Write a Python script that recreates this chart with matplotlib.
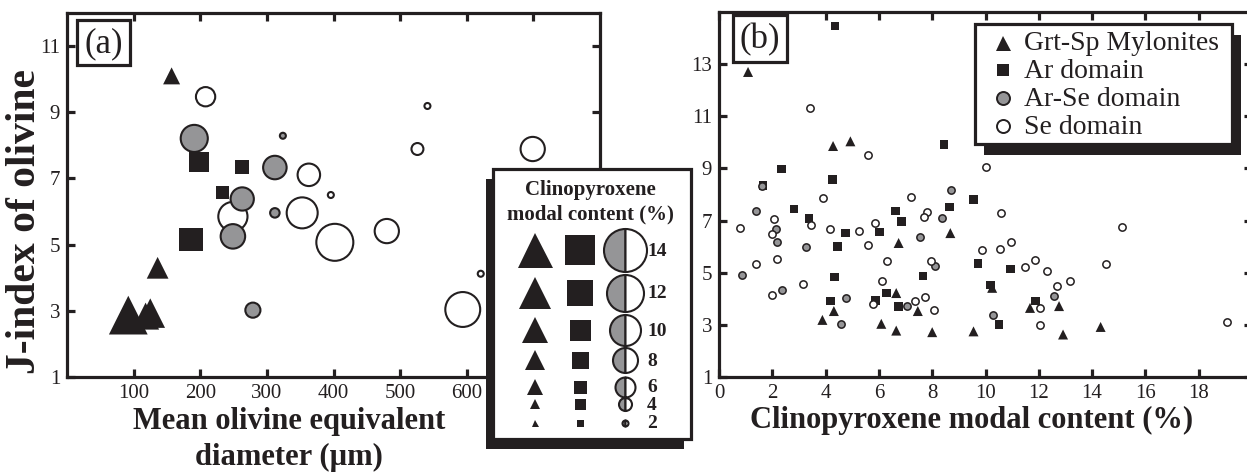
import numpy as np
import matplotlib
matplotlib.use("Agg")
import matplotlib.pyplot as plt
from matplotlib.patches import Rectangle

plt.rcParams["font.family"] = ["Liberation Serif", "DejaVu Serif"]

# ---- panel (a): mean olivine diameter (um) vs J-index, size = cpx content (%)
a_tri_x = [157, 136, 92, 125, 118]
a_tri_y = [10.1, 4.3, 2.87, 2.93, 2.84]
a_tri_c = [6.5, 8.5, 15.5, 11, 10]

a_sq_x = [198, 262, 234, 186]
a_sq_y = [7.5, 7.36, 6.57, 5.15]
a_sq_c = [9.3, 6.5, 6, 11]

a_grey_x = [191, 324, 312, 263, 312, 249, 279]
a_grey_y = [8.21, 8.29, 7.33, 6.38, 5.96, 5.25, 3.02]
a_grey_c = [8.7, 2, 7.4, 7.3, 3, 7.8, 4.6]

a_open_x = [208, 363, 396, 249, 353, 402, 541, 526, 699, 480, 621, 594]
a_open_y = [9.47, 7.11, 6.5, 5.85, 5.96, 5.07, 9.19, 7.89, 7.89, 5.41, 4.12, 3.04]
a_open_c = [5.8, 7, 2, 9.4, 10, 12, 2, 3.7, 7.7, 7.7, 2, 11.3]

# ---- panel (b): cpx content (%) vs J-index
b_tri_x = [1.09, 4.28, 4.93, 6.74, 8.68, 6.65, 4.31, 3.88, 6.09, 6.65, 7.46, 8.0,
           9.55, 10.25, 11.67, 12.76, 12.91, 14.32]
b_tri_y = [12.7, 9.86, 10.04, 6.14, 6.52, 4.22, 3.53, 3.19, 3.04, 2.78, 3.53, 2.72,
           2.75, 4.42, 3.65, 3.72, 2.63, 2.92]

b_sq_x = [4.36, 1.65, 2.34, 2.81, 3.38, 4.25, 4.74, 4.44, 4.34, 4.19, 6.03, 6.63, 6.84,
          7.65, 6.28, 5.88, 6.74, 8.44, 8.65, 9.55, 9.72, 10.94, 10.19, 11.88, 10.5]
b_sq_y = [14.47, 8.35, 8.97, 7.44, 7.07, 8.58, 6.53, 6.0, 4.83, 3.91, 6.57, 7.37, 6.97,
          4.88, 4.22, 3.93, 3.7, 9.91, 7.52, 7.8, 5.35, 5.15, 4.52, 3.91, 3.01]

b_grey_x = [1.61, 1.4, 0.86, 2.13, 2.19, 2.36, 3.28, 4.59, 4.78, 7.05, 7.55, 8.38,
            8.71, 8.1, 10.28, 12.57]
b_grey_y = [8.31, 7.38, 4.93, 6.69, 6.16, 4.32, 6.0, 3.04, 4.02, 3.72, 6.37, 7.11,
            8.19, 5.24, 3.37, 4.1]

b_open_x = [0.8, 1.38, 2.0, 1.98, 2.06, 2.19, 3.15, 3.4, 3.46, 3.89, 4.18, 5.25, 5.59,
            5.59, 5.86, 6.31, 6.11, 5.78, 7.21, 7.81, 7.68, 7.34, 7.73, 7.96, 8.05,
            10.0, 10.59, 9.85, 10.54, 10.96, 11.5, 11.84, 12.29, 12.04, 12.04, 12.69,
            13.17, 14.54, 15.13, 19.05]
b_open_y = [6.71, 5.32, 4.13, 6.47, 7.07, 5.54, 4.58, 11.3, 6.82, 7.87, 6.69, 6.6, 9.5,
            6.05, 6.91, 5.44, 4.7, 3.81, 7.9, 7.33, 7.14, 3.91, 4.06, 5.45, 3.58,
            9.07, 7.28, 5.86, 5.92, 6.18, 5.23, 5.47, 5.06, 3.65, 3.01, 4.49,
            4.68, 5.32, 6.75, 3.1]

legend_levels = [14, 12, 10, 8, 6, 4, 2]
group_names = ["Grt-Sp Mylonites", "Ar domain", "Ar-Se domain", "Se domain"]

# marker size (px) per cpx level
size_levels = [2, 4, 6, 8, 10, 12, 14, 16]
tri_px = [7, 10, 16, 20, 27, 32, 35, 40]
sq_px = [7, 11, 13, 17, 21, 26, 30, 34]
circ_px = [6, 13, 20, 25, 31, 37, 43, 49]

INK = "#231f20"
GREY = "#959597"
W, H = 1247, 475
PT = 0.72  # points per pixel at 100 dpi


def msize(c, table):
    return np.interp(c, size_levels, table) * PT


def px_box(l, t, r, b):
    return [l / W, 1 - b / H, (r - l) / W, (b - t) / H]


fig = plt.figure(figsize=(W / 100, H / 100), dpi=100)
ax_a = fig.add_axes(px_box(67, 13, 600, 377))
ax_b = fig.add_axes(px_box(719, 12, 1252, 377))

for ax in (ax_a, ax_b):
    for s in ax.spines.values():
        s.set_linewidth(2.3)
        s.set_color(INK)
    ax.tick_params(which="both", direction="in", length=5.5, width=2.3, color=INK,
                   labelsize=15, labelcolor=INK, top=True, right=True, pad=5)

# panel (a)
ax_a.scatter(a_open_x, a_open_y, s=msize(a_open_c, circ_px) ** 2, marker="o",
             facecolor="white", edgecolor=INK, linewidths=1.5, zorder=3)
ax_a.scatter(a_grey_x, a_grey_y, s=msize(a_grey_c, circ_px) ** 2, marker="o",
             facecolor=GREY, edgecolor=INK, linewidths=1.5, zorder=4)
ax_a.scatter(a_sq_x, a_sq_y, s=msize(a_sq_c, sq_px) ** 2, marker="s",
             facecolor=INK, edgecolor="none", zorder=5)
ax_a.scatter(a_tri_x, a_tri_y, s=msize(a_tri_c, tri_px) ** 2, marker="^",
             facecolor=INK, edgecolor="none", zorder=6)
ax_a.set_xlim(0, 800)
ax_a.set_ylim(1, 12)
ax_a.set_xticks(range(100, 800, 100))
ax_a.set_xticklabels([str(v) for v in range(100, 800, 100)])
ax_a.set_yticks(range(1, 12, 2))

# panel (b)
ax_b.scatter(b_sq_x, b_sq_y, s=(8.5 * PT) ** 2, marker="s", facecolor=INK,
             edgecolor="none", zorder=3)
ax_b.scatter(b_tri_x, b_tri_y, s=(10 * PT) ** 2, marker="^", facecolor=INK,
             edgecolor="none", zorder=3)
ax_b.scatter(b_grey_x, b_grey_y, s=(7.3 * PT) ** 2, marker="o", facecolor=GREY,
             edgecolor=INK, linewidths=1.1, zorder=4)
ax_b.scatter(b_open_x, b_open_y, s=(7.3 * PT) ** 2, marker="o", facecolor="white",
             edgecolor=INK, linewidths=1.1, zorder=4)
ax_b.set_xlim(0, 20)
ax_b.set_ylim(1, 15)
ax_b.set_xticks(range(0, 21, 2))
ax_b.set_xticklabels([str(v) for v in range(0, 19, 2)] + [""])
ax_b.set_yticks(range(1, 14, 2))

# overlay in pixel coordinates for labels, panel tags and legends
ov = fig.add_axes([0, 0, 1, 1], zorder=10)
ov.set_xlim(0, W)
ov.set_ylim(H, 0)
ov.axis("off")
ov.patch.set_alpha(0)

ov.text(25, 222, "J-index of olivine", rotation=90, ha="center", va="center",
        fontsize=30, weight="bold", color=INK)
ov.text(289, 422, "Mean olivine equivalent", ha="center", va="center",
        fontsize=22, weight="bold", color=INK)
ov.text(289, 457, "diameter (µm)", ha="center", va="center",
        fontsize=22, weight="bold", color=INK)
ov.text(972, 420, "Clinopyroxene modal content (%)", ha="center", va="center",
        fontsize=22, weight="bold", color=INK)

for (l, t, r, b), tag in [((77, 20, 130, 65), "(a)"), ((733, 15, 787, 62), "(b)")]:
    ov.add_patch(Rectangle((l, t), r - l, b - t, facecolor="white", edgecolor=INK,
                           linewidth=2.3))
    ov.text((l + r) / 2, (t + b) / 2 + 1, tag, ha="center", va="center",
            fontsize=25, color=INK)

# size legend of panel (a)
l, t, r, b = 493, 169, 691, 439
ov.add_patch(Rectangle((l - 7, t + 10), r - l, b - t, facecolor=INK, edgecolor="none"))
ov.add_patch(Rectangle((l, t), r - l, b - t, facecolor="white", edgecolor=INK,
                       linewidth=2.3))
ov.text(590, 190, "Clinopyroxene", ha="center", va="center", fontsize=15,
        weight="bold", color=INK)
ov.text(590, 214, "modal content (%)", ha="center", va="center", fontsize=15,
        weight="bold", color=INK)
row_y = [250, 293, 330, 360, 387, 404, 423]
for lev, yy in zip(legend_levels, row_y):
    ov.plot(535, yy, marker="^", ms=msize(lev, tri_px), color=INK, mew=0)
    ov.plot(580, yy, marker="s", ms=msize(lev, sq_px), color=INK, mew=0)
    ov.plot(625, yy, marker="o", ms=msize(lev, circ_px), fillstyle="left",
            markerfacecolor=GREY, markerfacecoloralt="white", markeredgecolor=INK,
            mew=1.5)
    ov.text(647, yy + 1, str(lev), ha="left", va="center", fontsize=14,
            weight="bold", color=INK)

# group legend of panel (b)
l, t, r, b = 975, 24, 1232, 144
ov.add_patch(Rectangle((l + 9, t + 11), r - l, b - t, facecolor=INK, edgecolor="none"))
ov.add_patch(Rectangle((l, t), r - l, b - t, facecolor="white", edgecolor=INK,
                       linewidth=2.3))
keys = [dict(marker="^", ms=15 * PT, color=INK, mew=0),
        dict(marker="s", ms=12 * PT, color=INK, mew=0),
        dict(marker="o", ms=13 * PT, markerfacecolor=GREY, markeredgecolor=INK, mew=1.4),
        dict(marker="o", ms=13 * PT, markerfacecolor="white", markeredgecolor=INK, mew=1.4)]
for name, key, yy in zip(group_names, keys, [43, 70, 98, 126]):
    ov.plot(1003, yy, **key)
    ov.text(1024, yy + 1, name, ha="left", va="center", fontsize=20, color=INK)

fig.savefig("out.png", dpi=100)
